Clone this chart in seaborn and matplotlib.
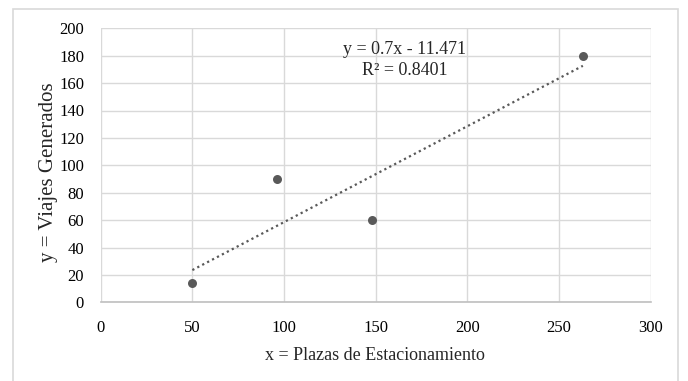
import numpy as np
import pandas as pd
import matplotlib
matplotlib.use("Agg")
import matplotlib.pyplot as plt
import seaborn as sns
from matplotlib.patches import Rectangle

# Data
plazas = [50, 96, 148, 263]
viajes = [14, 90, 60, 180]
x_ticks = [0, 50, 100, 150, 200, 250, 300]
y_ticks = [0, 20, 40, 60, 80, 100, 120, 140, 160, 180, 200]
eq_text = "y = 0.7x - 11.471\nR² = 0.8401"

df = pd.DataFrame({"x": plazas, "y": viajes})

sns.set_style("white")
plt.rcParams["font.family"] = ["Liberation Serif", "DejaVu Serif"]

fig = plt.figure(figsize=(6.88, 3.81), dpi=100)
ax = fig.add_axes([100.7 / 688, 1 - 302.3 / 381, 550 / 688, 274 / 381])

# outer frame
fig.patches.append(Rectangle((12.7 / 688, -0.05), (678 - 12.7) / 688, 1 - 9 / 381 + 0.05,
                             transform=fig.transFigure, fill=False,
                             edgecolor="#d9d9d9", linewidth=1.2, zorder=0))

# trendline
slope, intercept = np.polyfit(plazas, viajes, 1)
tx = np.array([min(plazas), max(plazas)])
sns.lineplot(x=tx, y=slope * tx + intercept, ax=ax, color="#595959",
             linestyle=(0, (1, 1.5)), linewidth=1.6, zorder=3)

sns.scatterplot(data=df, x="x", y="y", ax=ax, color="#595959", s=42,
                edgecolor="#595959", linewidth=0, zorder=4)

ax.set_xlim(0, 300)
ax.set_ylim(0, 200)
ax.set_xticks(x_ticks)
ax.set_yticks(y_ticks)
ax.grid(True, color="#d9d9d9", linewidth=1.0)
ax.set_axisbelow(True)
for s in ["top", "right", "left"]:
    ax.spines[s].set_visible(False)
ax.spines["bottom"].set_color("#bfbfbf")
ax.spines["bottom"].set_linewidth(1.2)
ax.tick_params(axis="both", length=0, labelsize=12, colors="#000000", pad=12)
ax.tick_params(axis="x", pad=13)

ax.set_xlabel("x = Plazas de Estacionamiento", fontsize=13)
ax.set_ylabel("y = Viajes Generados", fontsize=15)
ax.xaxis.set_label_coords((375 - 100.7) / 550, (302.3 - 355) / 274)
ax.xaxis.label.set_va("center")
ax.yaxis.set_label_coords((48 - 100.7) / 550, (302.3 - 172.5) / 274)
ax.yaxis.label.set_va("center")

ax.text(166, 176.6, eq_text, ha="center", va="center", fontsize=13,
        linespacing=1.3, zorder=5)

fig.savefig("out.png", dpi=100)
